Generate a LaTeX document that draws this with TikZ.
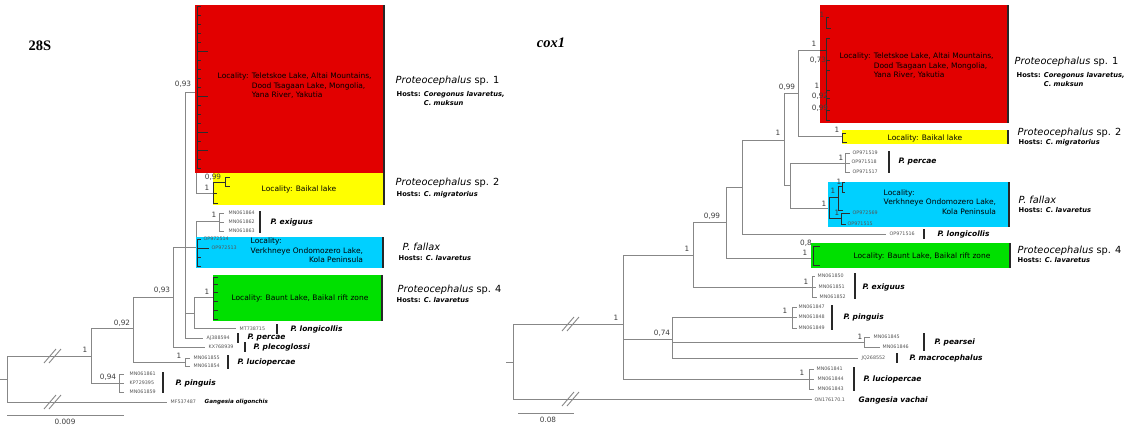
\documentclass[tikz,border=0pt]{standalone}
\usepackage{fontspec}
\setmainfont{DejaVu Sans}
\newfontfamily\headfont{Liberation Serif}
\usetikzlibrary{calc}

\begin{document}
\begin{tikzpicture}[x=1pt,y=1pt,yscale=-1,xscale=1,
    branch/.style={color={rgb, 255:red, 135; green, 135; blue, 135}, line width=0.9},
    inner/.style={color={rgb, 255:red, 45; green, 45; blue, 45}, line width=0.6},
    sbar/.style={color={rgb, 255:red, 40; green, 40; blue, 40}, line width=1.3},
    redbox/.style={fill={rgb, 255:red, 226; green, 0; blue, 0}},
    yelbox/.style={fill={rgb, 255:red, 255; green, 255; blue, 0}},
    cyanbox/.style={fill={rgb, 255:red, 0; green, 208; blue, 255}},
    grnbox/.style={fill={rgb, 255:red, 0; green, 224; blue, 0}},
    supp/.style={font=\fontsize{7.3}{8}\selectfont, text={rgb, 255:red, 60; green, 60; blue, 60}, inner sep=0.5pt},
    acc/.style={font=\fontsize{4.8}{5}\selectfont, text={rgb, 255:red, 85; green, 85; blue, 85}, anchor=west, inner sep=0.5pt},
    spname/.style={font=\fontsize{7.5}{9}\selectfont\bfseries\itshape, anchor=west, inner sep=0.5pt},
    bigname/.style={font=\fontsize{9.8}{11}\selectfont, anchor=west, inner sep=0.5pt},
    hosts/.style={font=\fontsize{6.7}{9}\selectfont\bfseries, anchor=north west, inner sep=0.5pt},
    loc/.style={font=\fontsize{7.5}{9.5}\selectfont, inner sep=0.5pt},
    title/.style={font=\headfont\fontsize{14.5}{16}\selectfont\bfseries, inner sep=0.5pt}
]
\useasboundingbox (0,0) rectangle (1136,429);

%%%%%%%%%%%%%%%% 28S tree
% Tree nodes
\coordinate (r1in) at (0,379);
\coordinate (r1) at (7,379);
\coordinate (a1) at (91,356);
\coordinate (gO) at (167,402);
\coordinate (pin) at (119,383);
\coordinate (pin1) at (124,374);
\coordinate (pin2) at (124,383);
\coordinate (pin3) at (124,392);
\coordinate (a2) at (133,328);
\coordinate (luc) at (185,362);
\coordinate (luc1) at (190,358);
\coordinate (luc2) at (190,366);
\coordinate (a3) at (173,297);
\coordinate (ple) at (205,347);
\coordinate (a4) at (185,247);
\coordinate (a5) at (196,92);
\coordinate (red1) at (200,60);
\coordinate (yel1) at (213,193);
\coordinate (a6) at (196,247);
\coordinate (exi) at (219,221);
\coordinate (exi1) at (224,213);
\coordinate (exi2) at (224,222);
\coordinate (exi3) at (224,231);
\coordinate (a7) at (194,313);
\coordinate (bau1) at (213,297);
\coordinate (lon) at (236,328);
\coordinate (per) at (203,338);

% Branches
\draw[branch] (r1in) -- (r1);
\foreach \c in {a1,gO} \draw[branch] (r1) |- (\c);
\foreach \c in {a2,pin} \draw[branch] (a1) |- (\c);
\foreach \c in {pin1,pin2,pin3} \draw[branch] (pin) |- (\c);
\foreach \c in {a3,luc} \draw[branch] (a2) |- (\c);
\foreach \c in {luc1,luc2} \draw[branch] (luc) |- (\c);
\foreach \c in {a4,ple} \draw[branch] (a3) |- (\c);
\foreach \c in {a5,a6,a7,per} \draw[branch] (a4) |- (\c);
\foreach \c in {red1,yel1} \draw[branch] (a5) |- (\c);
\draw[branch] (a6) |- (exi);
\foreach \c in {exi1,exi2,exi3} \draw[branch] (exi) |- (\c);
\foreach \c in {bau1,lon} \draw[branch] (a7) |- (\c);

% Clade boxes
\fill[redbox] (195,5) rectangle (384,173);
\fill[yelbox] (213,173) rectangle (384,205);
\fill[cyanbox] (196,237) rectangle (383,268);
\fill[grnbox] (213,275) rectangle (382,321);

% Collapsed subtrees
\draw[inner] (197,6) -- (197,168);
\foreach \y in {6,15,...,168} \draw[inner] (197,\y) -- (201,\y);
\foreach \y in {51,96,132,150} \draw[inner] (197,\y) -- (208,\y);
\draw[inner] (213,182) -- (213,203) (213,182) -- (225,182) (225,177) -- (225,186)
  (225,177) -- (230,177) (225,186) -- (230,186) (213,203) -- (218,203) (213,193) -- (217,193);
\draw[inner] (197,239) -- (197,266);
\foreach \y in {239,257,266} \draw[inner] (197,\y) -- (201,\y);
\draw[inner] (197,248) -- (209,248);
\draw[inner] (213,277) -- (213,319);
\foreach \y in {277,284,292,301,310,319} \draw[inner] (213,\y) -- (218,\y);

% Break marks
\foreach \bx/\by in {52/356,52/402,570/324,570/399} {
  \draw[branch] (\bx-8,\by+7) -- (\bx+4,\by-7);
  \draw[branch] (\bx-3,\by+7) -- (\bx+9,\by-7);
}

% Scale bar
\coordinate (sb1) at (7,415);
\coordinate (sb2) at (124,415);
\draw[branch] (sb1) -- (sb2);
\node[supp] (sbl) at (65,422) {0.009};

% Species bars
\draw[sbar] (384,5) -- (384,173);
\draw[sbar] (384,173) -- (384,205);
\draw[sbar] (383,237) -- (383,268);
\draw[sbar] (382,275) -- (382,321);
\draw[sbar] (260,211) -- (260,233);
\draw[sbar] (277,324) -- (277,334);
\draw[sbar] (238,333) -- (238,343);
\draw[sbar] (245,342) -- (245,352);
\draw[sbar] (228,355) -- (228,369);
\draw[sbar] (163,372) -- (163,393);

% Text Node
\node[title] (t28s) at (40,46) {28S};
\node[supp] (s1) at (183,84) {0,93};
\node[supp] (s2) at (213,177) {0,99};
\node[supp] (s3) at (207,188) {1};
\node[supp] (s4) at (214,215) {1};
\node[supp] (s5) at (207,292) {1};
\node[supp] (s6) at (162,290) {0,93};
\node[supp] (s7) at (122,323) {0,92};
\node[supp] (s8) at (85,350) {1};
\node[supp] (s9) at (108,377) {0,94};
\node[supp] (s10) at (179,356) {1};

\node[acc] (l1) at (228,213) {MN061864};
\node[acc] (l2) at (228,222) {MN061862};
\node[acc] (l3) at (228,231) {MN061863};
\node[acc] (l4) at (203,239) {OP972514};
\node[acc] (l5) at (211,248) {OP972513};
\node[acc] (l6) at (239,329) {MT738715};
\node[acc] (l7) at (206,338) {AJ388594};
\node[acc] (l8) at (208,347) {KX768939};
\node[acc] (l9) at (193,358) {MN061855};
\node[acc] (l10) at (193,366) {MN061854};
\node[acc] (l11) at (129,374) {MN061861};
\node[acc] (l12) at (129,383) {KP729395};
\node[acc] (l13) at (129,392) {MN061859};
\node[acc] (l14) at (170,402) {MF537487};

\node[loc, anchor=west] (c1) at (217,86.5) {\begin{tabular}{@{}l@{ }l@{}}Locality: & Teletskoe Lake, Altai Mountains,\\ & Dood Tsagaan Lake, Mongolia,\\ & Yana River, Yakutia\end{tabular}};
\node[loc] (c2) at (299,189) {Locality: Baikal lake};
\node[loc, anchor=west] (c3) at (250,251.5) {\begin{tabular}{@{}l@{}}Locality:\\ Verkhneye Ondomozero Lake,\\ \multicolumn{1}{@{}r@{}}{Kola Peninsula}\end{tabular}};
\node[loc] (c4) at (300,298) {Locality: Baunt Lake, Baikal rift zone};

\node[spname] (n1) at (270,222) {P. exiguus};
\node[spname] (n2) at (290,329) {P. longicollis};
\node[spname] (n3) at (247,338) {P. percae};
\node[spname] (n4) at (253,347) {P. plecoglossi};
\node[spname] (n5) at (237,362) {P. luciopercae};
\node[spname] (n6) at (175,383) {P. pinguis};
\node[spname, font=\fontsize{5.6}{7}\selectfont\bfseries\itshape] (n7) at (204,402) {Gangesia oligonchis};

\node[bigname] (m1) at (395,81) {\textit{Proteocephalus} sp. 1};
\node[hosts] (h1) at (396,89.5) {\begin{tabular}{@{}l@{ }l@{}}Hosts: & \textit{Coregonus lavaretus,}\\ & \textit{C. muksun}\end{tabular}};
\node[bigname] (m2) at (395,183) {\textit{Proteocephalus} sp. 2};
\node[hosts] (h2) at (396,191) {Hosts: \textit{C. migratorius}};
\node[bigname] (m3) at (402,247) {\textit{P. fallax}};
\node[hosts] (h3) at (398,255) {Hosts: \textit{C. lavaretus}};
\node[bigname] (m4) at (397,290) {\textit{Proteocephalus} sp. 4};
\node[hosts] (h4) at (396,297) {Hosts: \textit{C. lavaretus}};

%%%%%%%%%%%%%%%% cox1 tree
% Tree nodes
\coordinate (r2in) at (506,362);
\coordinate (r2) at (513,362);
\coordinate (gV) at (812,399);
\coordinate (b1) at (623,324);
\coordinate (bluc) at (809,379);
\coordinate (bluc1) at (814,369);
\coordinate (bluc2) at (814,379);
\coordinate (bluc3) at (814,389);
\coordinate (b3) at (672,339);
\coordinate (bpin) at (792,317);
\coordinate (bpin1) at (797,307);
\coordinate (bpin2) at (797,317);
\coordinate (bpin3) at (797,328);
\coordinate (bpea) at (864,342);
\coordinate (bpea1) at (870,337);
\coordinate (bpea2) at (880,347);
\coordinate (mac) at (858,358);
\coordinate (b2) at (693,255);
\coordinate (bexi) at (812,287);
\coordinate (bexi1) at (815,276);
\coordinate (bexi2) at (816,287);
\coordinate (bexi3) at (817,297);
\coordinate (b4) at (726,222);
\coordinate (bbau) at (812,258);
\coordinate (b5) at (742,187);
\coordinate (blon) at (886,234);
\coordinate (b6) at (784,140);
\coordinate (b7) at (798,93);
\coordinate (bred) at (826,50);
\coordinate (byel) at (842,136);
\coordinate (b8) at (790,185);
\coordinate (bper) at (845,163);
\coordinate (bper1) at (850,153);
\coordinate (bper2) at (850,163);
\coordinate (bper3) at (850,172);
\coordinate (bfal) at (829,208);

% Branches
\draw[branch] (r2in) -- (r2);
\foreach \c in {b1,gV} \draw[branch] (r2) |- (\c);
\foreach \c in {b2,b3,bluc} \draw[branch] (b1) |- (\c);
\foreach \c in {bluc1,bluc2,bluc3} \draw[branch] (bluc) |- (\c);
\foreach \c in {bpin,bpea,mac} \draw[branch] (b3) |- (\c);
\foreach \c in {bpin1,bpin2,bpin3} \draw[branch] (bpin) |- (\c);
\foreach \c in {bpea1,bpea2} \draw[branch] (bpea) |- (\c);
\foreach \c in {b4,bexi} \draw[branch] (b2) |- (\c);
\foreach \c in {bexi1,bexi2,bexi3} \draw[branch] (bexi) |- (\c);
\foreach \c in {b5,bbau} \draw[branch] (b4) |- (\c);
\foreach \c in {b6,blon} \draw[branch] (b5) |- (\c);
\foreach \c in {b7,b8} \draw[branch] (b6) |- (\c);
\foreach \c in {bred,byel} \draw[branch] (b7) |- (\c);
\foreach \c in {bper,bfal} \draw[branch] (b8) |- (\c);
\foreach \c in {bper1,bper2,bper3} \draw[branch] (bper) |- (\c);

% Clade boxes
\fill[redbox] (820,5) rectangle (1008,123);
\fill[yelbox] (842,130) rectangle (1008,144);
\fill[cyanbox] (828,182) rectangle (1009,227);
\fill[grnbox] (811,243) rectangle (1010,268);

% Collapsed subtrees
\draw[inner] (820,50) -- (826,50);
\draw[inner] (826,17) -- (826,28) (826,17) -- (829,17) (826,28) -- (831,28);
\draw[inner] (826,38) -- (826,120);
\foreach \y in {38,60,70,90,98,110,120} \draw[inner] (826,\y) -- (830,\y);
\draw[inner] (842,133) -- (842,142) (842,133) -- (846,133) (842,142) -- (847,142);
\draw[inner] (829,197) -- (829,218) (829,197) -- (838,197) (838,186) -- (838,210)
  (838,186) -- (842,186) (842,182) -- (842,192) (842,182) -- (845,182) (842,192) -- (845,192)
  (838,210) -- (843,210) (829,218) -- (841,218) (841,213) -- (841,224)
  (841,213) -- (850,213) (841,224) -- (846,224);
\draw[inner] (813,246) -- (813,265) (813,246) -- (820,246) (813,265) -- (820,265);

% Scale bar
\coordinate (sc1) at (518,413);
\coordinate (sc2) at (574,413);
\draw[branch] (sc1) -- (sc2);
\node[supp] (scl) at (548,420) {0.08};

% Species bars
\draw[sbar] (1008,5) -- (1008,123);
\draw[sbar] (1008,130) -- (1008,144);
\draw[sbar] (889,151) -- (889,173);
\draw[sbar] (1009,182) -- (1009,227);
\draw[sbar] (924,229) -- (924,239);
\draw[sbar] (1010,243) -- (1010,268);
\draw[sbar] (855,273) -- (855,299);
\draw[sbar] (832,305) -- (832,330);
\draw[sbar] (924,333) -- (924,351);
\draw[sbar] (897,353) -- (897,363);
\draw[sbar] (854,367) -- (854,391);

% Text Node
\node[title, font=\headfont\fontsize{14.5}{16}\selectfont\bfseries\itshape] (tcox) at (551,43) {cox1};
\node[supp] (t1) at (616,318) {1};
\node[supp] (t2) at (662,333) {0,74};
\node[supp] (t3) at (785,311) {1};
\node[supp] (t4) at (860,337) {1};
\node[supp] (t5) at (802,373) {1};
\node[supp] (t6) at (687,249) {1};
\node[supp] (t7) at (806,282) {1};
\node[supp] (t8) at (712,216) {0,99};
\node[supp] (t9) at (778,133) {1};
\node[supp] (t10) at (787,87) {0,99};
\node[supp] (t11) at (814,44) {1};
\node[supp] (t12) at (837,130) {1};
\node[supp] (t13) at (841,158) {1};
\node[supp] (t14) at (824,204) {1};
\node[supp] (t15) at (806,243) {0,8};
\node[supp] (t16) at (805,253) {1};
\node[supp] (t17) at (822,15) {1};
\node[supp] (t18) at (818,60) {0,73};
\node[supp] (t19) at (817,86) {1};
\node[supp] (t20) at (820,96) {0,92};
\node[supp] (t21) at (820,108) {0,99};
\node[supp] (t22) at (833,191) {1};
\node[supp] (t23) at (839,182) {1};
\node[supp] (t24) at (837,213) {1};

\node[acc] (k1) at (852,153) {OP971519};
\node[acc] (k2) at (851,162) {OP971518};
\node[acc] (k3) at (852,172) {OP971517};
\node[acc] (k4) at (852,213) {OP972569};
\node[acc] (k5) at (847,224) {OP971515};
\node[acc] (k6) at (889,234) {OP971516};
\node[acc] (k7) at (817,276) {MN061850};
\node[acc] (k8) at (818,287) {MN061851};
\node[acc] (k9) at (819,297) {MN061852};
\node[acc] (k10) at (798,307) {MN061847};
\node[acc] (k11) at (798,317) {MN061848};
\node[acc] (k12) at (798,328) {MN061849};
\node[acc] (k13) at (873,337) {MN061845};
\node[acc] (k14) at (882,347) {MN061846};
\node[acc] (k15) at (861,358) {JQ268552};
\node[acc] (k16) at (816,369) {MN061841};
\node[acc] (k17) at (817,379) {MN061844};
\node[acc] (k18) at (817,389) {MN061843};
\node[acc] (k19) at (814,400) {ON176170.1};

\node[loc, anchor=west] (d1) at (839,66.5) {\begin{tabular}{@{}l@{ }l@{}}Locality: & Teletskoe Lake, Altai Mountains,\\ & Dood Tsagaan Lake, Mongolia,\\ & Yana River, Yakutia\end{tabular}};
\node[loc] (d2) at (925,138) {Locality: Baikal lake};
\node[loc, anchor=west] (d3) at (883,203) {\begin{tabular}{@{}l@{}}Locality:\\ Verkhneye Ondomozero Lake,\\ \multicolumn{1}{@{}r@{}}{Kola Peninsula}\end{tabular}};
\node[loc] (d4) at (922,256) {Locality: Baunt Lake, Baikal rift zone};

\node[spname] (p1) at (898,162) {P. percae};
\node[spname] (p2) at (937,234) {P. longicollis};
\node[spname] (p3) at (862,287) {P. exiguus};
\node[spname] (p4) at (843,317) {P. pinguis};
\node[spname] (p5) at (934,342) {P. pearsei};
\node[spname] (p6) at (909,358) {P. macrocephalus};
\node[spname] (p7) at (863,379) {P. luciopercae};
\node[spname] (p8) at (858,400) {Gangesia vachai};

\node[bigname] (q1) at (1014,62) {\textit{Proteocephalus} sp. 1};
\node[hosts] (g1) at (1016,70) {\begin{tabular}{@{}l@{ }l@{}}Hosts: & \textit{Coregonus lavaretus,}\\ & \textit{C. muksun}\end{tabular}};
\node[bigname] (q2) at (1017,133) {\textit{Proteocephalus} sp. 2};
\node[hosts] (g2) at (1018,139) {Hosts: \textit{C. migratorius}};
\node[bigname] (q3) at (1018,200) {\textit{P. fallax}};
\node[hosts] (g3) at (1018,206.5) {Hosts: \textit{C. lavaretus}};
\node[bigname] (q4) at (1017,251) {\textit{Proteocephalus} sp. 4};
\node[hosts] (g4) at (1017,257) {Hosts: \textit{C. lavaretus}};
\end{tikzpicture}
\end{document}
